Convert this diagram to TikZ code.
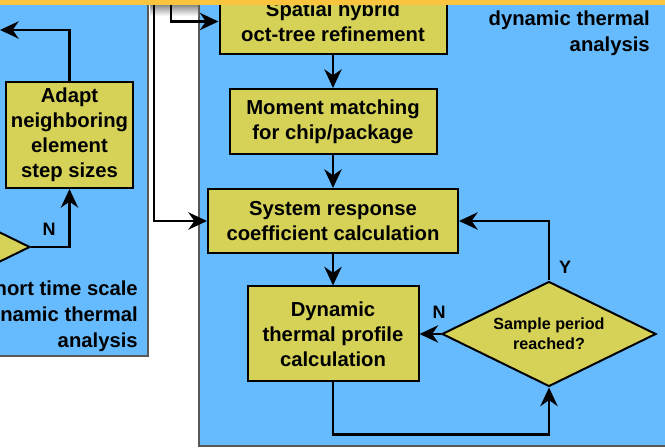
\documentclass[tikz,border=0pt]{standalone}
\usepackage{fontspec}
\setmainfont{Liberation Sans}
\usetikzlibrary{arrows.meta,shapes.geometric}
\definecolor{panelblue}{RGB}{102,187,255}
\definecolor{panelgray}{RGB}{88,88,88}
\definecolor{boxyellow}{RGB}{214,210,88}
\definecolor{stripe}{RGB}{250,196,62}
\begin{document}
\begin{tikzpicture}[x=0.75pt, y=-0.75pt,
  box/.style={draw, line width=1.5pt, fill=boxyellow, align=center, inner sep=2pt, font=\fontsize{15.2}{18.8}\selectfont\bfseries},
  decision/.style={shape=diamond, aspect=2, draw, line width=1.5pt, fill=boxyellow, align=center, inner sep=0pt, minimum width=160.5pt, minimum height=78.75pt, font=\fontsize{12.1}{15}\selectfont\bfseries},
  arr/.style={-{Stealth[length=14pt, width=13pt, inset=4.5pt]}, line width=1.6pt},
  panel/.style={draw=panelgray, line width=2pt, fill=panelblue},
  yn/.style={font=\fontsize{13.5}{16}\selectfont\bfseries},
  caption/.style={align=right, inner sep=0pt, font=\fontsize{15.2}{19.5}\selectfont\bfseries}]
\useasboundingbox (0, 0) rectangle (665, 448);
\clip (0, 0) rectangle (665, 448);
\path[panel] (-20, -20) rectangle (148, 356);
\path[panel] (199, -20) rectangle (690, 446);
\shade[top color=panelgray!70, bottom color=white] (150, 5) rectangle (198, 16);
\node[box, minimum width=170.25pt, minimum height=48.75pt] (spatial) at (333, 21.5) {Spatial hybrid\\oct-tree refinement};
\node[box, minimum width=155.25pt, minimum height=48.75pt] (moment) at (333, 121.5) {Moment matching\\for chip/package};
\node[box, minimum width=187.5pt, minimum height=48pt] (sysresp) at (333, 221) {System response\\coefficient calculation};
\node[box, minimum width=128.25pt, minimum height=71.25pt] (dynprof) at (333, 334) {Dynamic\\thermal profile\\calculation};
\node[decision] (sample) at (549, 334) {Sample period\\reached?};
\node[box, minimum width=95.25pt, minimum height=79.5pt] (adapt) at (69.5, 135) {Adapt\\neighboring\\element\\step sizes};
\node[decision] (sampleL) at (-77, 247) {};
\node[yn] (labY) at (565, 267) {Y};
\node[yn] (labN) at (439, 312) {N};
\node[yn] (labNL) at (49, 229) {N};
\node[caption, anchor=east] (capR) at (650, 33) {dynamic thermal\\analysis};
\node[caption, anchor=east] (capL) at (138, 316) {hort time scale\\namic thermal\\analysis};
\coordinate (outL) at (0, 30);
\coordinate (inA) at (154, -10);
\coordinate (inB) at (171, -10);
\draw[arr] (spatial.south) -- (moment.north);
\draw[arr] (moment.south) -- (sysresp.north);
\draw[arr] (sysresp.south) -- (dynprof.north);
\draw[arr] (sample.west) -- (dynprof.east);
\draw[arr] (sample.north) |- (sysresp.east);
\draw[arr] (dynprof.south) -- ++(0, 52) -| (sample.south);
\draw[arr] (adapt.north) |- (outL);
\draw[arr] (sampleL.east) -| (adapt.south);
\draw[arr] (inA) |- (sysresp.west);
\draw[arr] (inB) |- (spatial.west);
\fill[stripe] (-20, -20) rectangle (690, 5);
\end{tikzpicture}
\end{document}
